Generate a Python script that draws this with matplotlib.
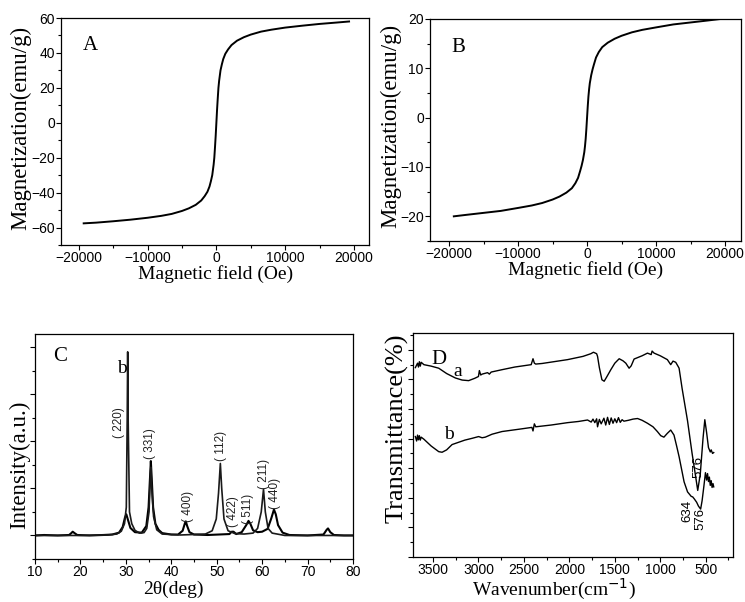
import matplotlib
matplotlib.use("Agg")
import matplotlib.pyplot as plt
from matplotlib.ticker import MultipleLocator, NullFormatter

# ---------------- data ----------------
# Panel A: magnetization loop (Oe, emu/g)
hA = [-19300, -17500, -15000, -12500, -10000, -8000, -6500, -5000, -4000, -3000, -2200, -1700,
      -1300, -1000, -800, -600, -400, -300, -200, -100, 0, 100, 200, 300, 400, 600, 800, 1000,
      1300, 1700, 2200, 3000, 4000, 5000, 6500, 8000, 10000, 12500, 15000, 17500, 19300]
mA = [-57.6, -57.2, -56.4, -55.5, -54.4, -53.3, -52.2, -50.5, -49.0, -47.0, -44.5, -42.0,
      -39.5, -36.5, -33.5, -30.0, -24.0, -20.0, -14.0, -7.5, 0.0, 7.5, 14.0, 20.0, 24.0, 30.0,
      33.5, 36.5, 39.5, 42.0, 44.5, 47.0, 49.0, 50.5, 52.2, 53.3, 54.5, 55.6, 56.6, 57.4, 58.0]

# Panel B: magnetization loop (Oe, emu/g)
hB = hA
mB = [-20.0, -19.7, -19.3, -18.9, -18.3, -17.8, -17.3, -16.6, -16.0, -15.2, -14.3, -13.3,
      -12.2, -10.8, -9.8, -8.6, -7.0, -5.8, -4.3, -2.3, 0.0, 2.3, 4.3, 5.8, 7.0, 8.6, 9.8,
      10.8, 12.2, 13.3, 14.3, 15.2, 16.0, 16.6, 17.3, 17.8, 18.3, 18.9, 19.3, 19.7, 20.0]

# Panel C: XRD patterns (2theta, intensity a.u.)
tC_a = [10, 12, 15, 17.5, 18.0, 18.3, 18.7, 19.3, 22, 25, 27, 28.5, 29.3, 29.8, 30.1, 30.5,
        31.0, 32, 33.5, 34.5, 35.0, 35.3, 35.5, 35.7, 36.0, 36.5, 37.2, 38, 40, 41.5, 42.5, 43.0,
        43.2, 43.5, 44, 45, 48, 52.8, 53.3, 53.7, 54.3, 55.5, 56.5, 57.0, 57.4, 58, 59, 60, 61.2,
        62.0, 62.6, 63.0, 63.5, 64.5, 66, 70, 73.5, 74.2, 74.5, 75, 75.8, 78, 80]
iC_a = [0.0, 0.01, 0.0, 0.01, 0.05, 0.08, 0.05, 0.01, 0.0, 0.01, 0.02, 0.06, 0.18, 0.38, 0.45, 0.32,
        0.16, 0.07, 0.06, 0.2, 0.6, 1.2, 1.58, 1.2, 0.6, 0.25, 0.12, 0.05, 0.02, 0.02, 0.1, 0.26,
        0.3, 0.2, 0.07, 0.02, 0.01, 0.03, 0.08, 0.08, 0.03, 0.07, 0.22, 0.31, 0.25, 0.11, 0.07, 0.08, 0.14,
        0.36, 0.55, 0.45, 0.22, 0.06, 0.01, 0.0, 0.02, 0.12, 0.15, 0.07, 0.01, 0.0, 0.0]
tC_b = [10, 20, 26, 28, 29.0, 29.7, 30.1, 30.3, 30.4, 30.5, 30.8, 31.3, 32, 33, 34.0, 34.6, 35.1,
        35.4, 35.5, 35.7, 36.1, 36.8, 38, 42, 47.5, 49, 49.9, 50.4, 50.8, 51.1, 51.6, 52.5, 54, 56,
        58, 59.0, 59.8, 60.3, 60.7, 61.3, 62.2, 65, 70, 80]
iC_b = [0.0, 0.0, 0.01, 0.03, 0.09, 0.25, 0.6, 2.5, 3.9, 2.5, 0.5, 0.25, 0.11, 0.05, 0.06, 0.15, 0.5,
        1.3, 1.45, 1.0, 0.4, 0.12, 0.03, 0.01, 0.03, 0.1, 0.35, 0.9, 1.53, 1.0, 0.35, 0.1, 0.04, 0.03,
        0.05, 0.15, 0.5, 0.98, 0.5, 0.15, 0.05, 0.0, 0.0, 0.0]
c_labels = ["( 220)", "( 331)", "( 400)", "( 112)", "( 422)", "( 511)", "( 211)", "( 440)"]
c_label_x = [28.5, 35.4, 43.6, 50.9, 53.6, 56.9, 60.4, 62.9]
c_label_y = [2.4, 1.95, 0.62, 1.9, 0.5, 0.57, 1.3, 0.9]

# Panel D: FTIR spectra (wavenumber, transmittance %)
wD_a = [3694, 3670, 3660, 3650, 3640, 3630, 3600, 3520, 3437, 3350, 3254, 3180, 3108, 3040, 3000,
        2990, 2975, 2960, 2900, 2880, 2860, 2741, 2600, 2420, 2400, 2385, 2370, 2300, 2020, 1850,
        1764, 1735, 1700, 1690, 1670, 1642, 1617, 1590, 1544, 1500, 1452, 1410, 1379, 1343, 1320,
        1288, 1200, 1141, 1100, 1090, 1068, 1000, 922, 885, 860, 830, 800, 793, 760, 700, 650,
        610, 588, 560, 530, 510, 490, 470, 450, 440, 425, 412]
yD_a = [64.0, 65.5, 64.2, 66.0, 64.5, 65.8, 65.0, 64.5, 63.8, 62.0, 60.5, 59.8, 59.6, 60.4, 61.0,
        63.0, 61.5, 61.8, 62.3, 61.8, 62.5, 63.3, 64.2, 65.0, 67.0, 65.5, 65.2, 65.4, 66.7, 67.8,
        68.7, 69.2, 68.7, 67.8, 64.0, 59.9, 59.4, 60.8, 63.3, 65.5, 67.0, 66.3, 65.5, 63.8, 64.6,
        66.9, 68.0, 68.9, 68.4, 69.6, 68.9, 68.0, 66.7, 65.0, 66.2, 65.8, 64.2, 63.8, 57.0, 46.0, 35.0,
        27.0, 22.5, 28.0, 40.0, 46.4, 42.0, 37.0, 35.5, 36.2, 35.0, 35.3]
wD_b = [3694, 3680, 3670, 3660, 3650, 3640, 3630, 3600, 3520, 3437, 3400, 3350, 3290, 3150, 3071,
        2998, 2960, 2925, 2850, 2741, 2550, 2412, 2400, 2385, 2370, 2200, 2020, 1900, 1800, 1760,
        1740, 1720, 1700, 1690, 1670, 1650, 1620, 1600, 1580, 1560, 1540, 1520, 1500, 1480, 1460,
        1440, 1420, 1400, 1350, 1300, 1250, 1200, 1141, 1080, 1032, 995, 960, 922, 885, 849, 820,
        793, 738, 700, 660, 643, 625, 600, 580, 556, 540, 520, 503, 490, 480, 470, 460, 450, 440,
        430, 420, 412]
yD_b = [40.7, 39.2, 41.2, 39.6, 41.0, 39.5, 40.5, 39.8, 37.5, 35.6, 35.4, 36.2, 38.0, 39.5, 40.1,
        40.7, 40.3, 40.5, 41.5, 42.4, 43.2, 43.8, 42.6, 45.0, 44.0, 44.6, 45.4, 45.8, 46.3, 45.6,
        46.6, 45.4, 46.7, 44.0, 46.5, 45.0, 46.9, 44.6, 47.2, 44.8, 47.0, 45.2, 46.7, 45.4, 47.1,
        45.5, 46.4, 45.9, 46.2, 46.6, 46.8, 46.2, 45.2, 44.0, 42.4, 41.0, 40.5, 41.8, 42.9, 41.2, 37.5,
        33.9, 25.4, 22.0, 20.5, 20.3, 19.6, 18.5, 17.2, 16.2, 19.0, 24.0, 28.5, 26.0, 28.2, 25.5,
        27.0, 24.2, 25.8, 23.5, 24.8, 23.7]
d_labels = ["576", "634", "576"]
d_label_x = [583, 697, 563]
d_label_y = [30.3, 15.4, 12.7]

# ---------------- figure ----------------
plt.rcParams['font.family'] = ['Liberation Sans', 'DejaVu Sans']
SERIF = ['Liberation Serif', 'DejaVu Serif']
W, H = 745, 602
fig = plt.figure(figsize=(W / 100, H / 100), dpi=100)


def box(l, r, t, b):
    return [l / W, 1 - b / H, (r - l) / W, (b - t) / H]


def style(ax):
    ax.tick_params(which='both', direction='out', labelsize=10, width=0.8,
                   top=False, right=False, pad=1)
    ax.tick_params(which='major', length=3.5)
    ax.tick_params(which='minor', length=2)
    for s in ax.spines.values():
        s.set_linewidth(0.9)


def labels(ax, xl, xpos, yl, ypos, ysize):
    ax.text(xpos[0], xpos[1], xl, transform=ax.transAxes, ha='center', va='center',
            fontsize=14, family=SERIF)
    ax.text(ypos[0], ypos[1], yl, transform=ax.transAxes, ha='center', va='center',
            rotation=90, fontsize=ysize, family=SERIF)


# A
axA = fig.add_axes(box(61, 369, 18, 245))
axA.plot(hA, mA, color='black', lw=1.4)
axA.set_xlim(-22600, 22200)
axA.set_ylim(-70, 60)
axA.xaxis.set_major_locator(MultipleLocator(10000))
axA.xaxis.set_minor_locator(MultipleLocator(5000))
axA.yaxis.set_major_locator(MultipleLocator(20))
axA.yaxis.set_minor_locator(MultipleLocator(10))
style(axA)
labels(axA, 'Magnetic field (Oe)', (0.503, -0.127), 'Magnetization(emu/g)', (-0.13, 0.515), 16.5)
axA.text(0.07, 0.88, 'A', transform=axA.transAxes, fontsize=15, family=SERIF, va='center')

# B
axB = fig.add_axes(box(430, 741, 19, 241))
axB.plot(hB, mB, color='black', lw=1.4)
axB.set_xlim(-22750, 22300)
axB.set_ylim(-25, 20)
axB.xaxis.set_major_locator(MultipleLocator(10000))
axB.xaxis.set_minor_locator(MultipleLocator(5000))
axB.yaxis.set_major_locator(MultipleLocator(10))
axB.yaxis.set_minor_locator(MultipleLocator(5))
style(axB)
labels(axB, 'Magnetic field (Oe)', (0.5, -0.13), 'Magnetization(emu/g)', (-0.127, 0.518), 16.5)
axB.text(0.07, 0.87, 'B', transform=axB.transAxes, fontsize=15, family=SERIF, va='center')

# C
axC = fig.add_axes(box(35, 353, 334, 559))
axC.plot(tC_a, iC_a, color='black', lw=1.5)
axC.plot(tC_b, iC_b, color='#1a1a1a', lw=1.2)
axC.set_xlim(10, 80)
axC.set_ylim(-0.5, 4.28)
axC.xaxis.set_major_locator(MultipleLocator(10))
axC.xaxis.set_minor_locator(MultipleLocator(5))
axC.yaxis.set_major_locator(MultipleLocator(1))
axC.yaxis.set_minor_locator(MultipleLocator(0.5))
axC.yaxis.set_major_formatter(NullFormatter())
style(axC)
labels(axC, '2θ(deg)', (0.434, -0.135), 'Intensity(a.u.)', (-0.05, 0.418), 16.5)
axC.text(14.0, 3.8, 'C', fontsize=15, family=SERIF, va='center')
axC.text(29.1, 3.55, 'b', fontsize=14, family=SERIF, va='center', ha='center')
for t, x, y in zip(c_labels, c_label_x, c_label_y):
    axC.text(x, y, t, rotation=90, fontsize=8.5, ha='center', va='center', color='#222222')

# D
axD = fig.add_axes(box(413, 733, 333, 557))
axD.plot(wD_a, yD_a, color='black', lw=1.0)
axD.plot(wD_b, yD_b, color='black', lw=1.0)
axD.set_xlim(3720, 200)
axD.set_ylim(0, 75.7)
axD.xaxis.set_major_locator(MultipleLocator(500))
axD.xaxis.set_minor_locator(MultipleLocator(250))
axD.yaxis.set_major_locator(MultipleLocator(10))
axD.yaxis.set_minor_locator(MultipleLocator(5))
axD.yaxis.set_major_formatter(NullFormatter())
style(axD)
labels(axD, 'Wavenumber(cm$^{-1}$)', (0.44, -0.145), 'Transmittance(%)', (-0.05, 0.576), 19)
axD.text(3434, 66.8, 'D', fontsize=15, family=SERIF, va='center', ha='center')
axD.text(3225, 62.7, 'a', fontsize=14, family=SERIF, va='center', ha='center')
axD.text(3324, 41.5, 'b', fontsize=14, family=SERIF, va='center', ha='center')
for t, x, y in zip(d_labels, d_label_x, d_label_y):
    axD.text(x, y, t, rotation=90, fontsize=9.5, ha='center', va='center')

fig.savefig('out.png', dpi=100)
